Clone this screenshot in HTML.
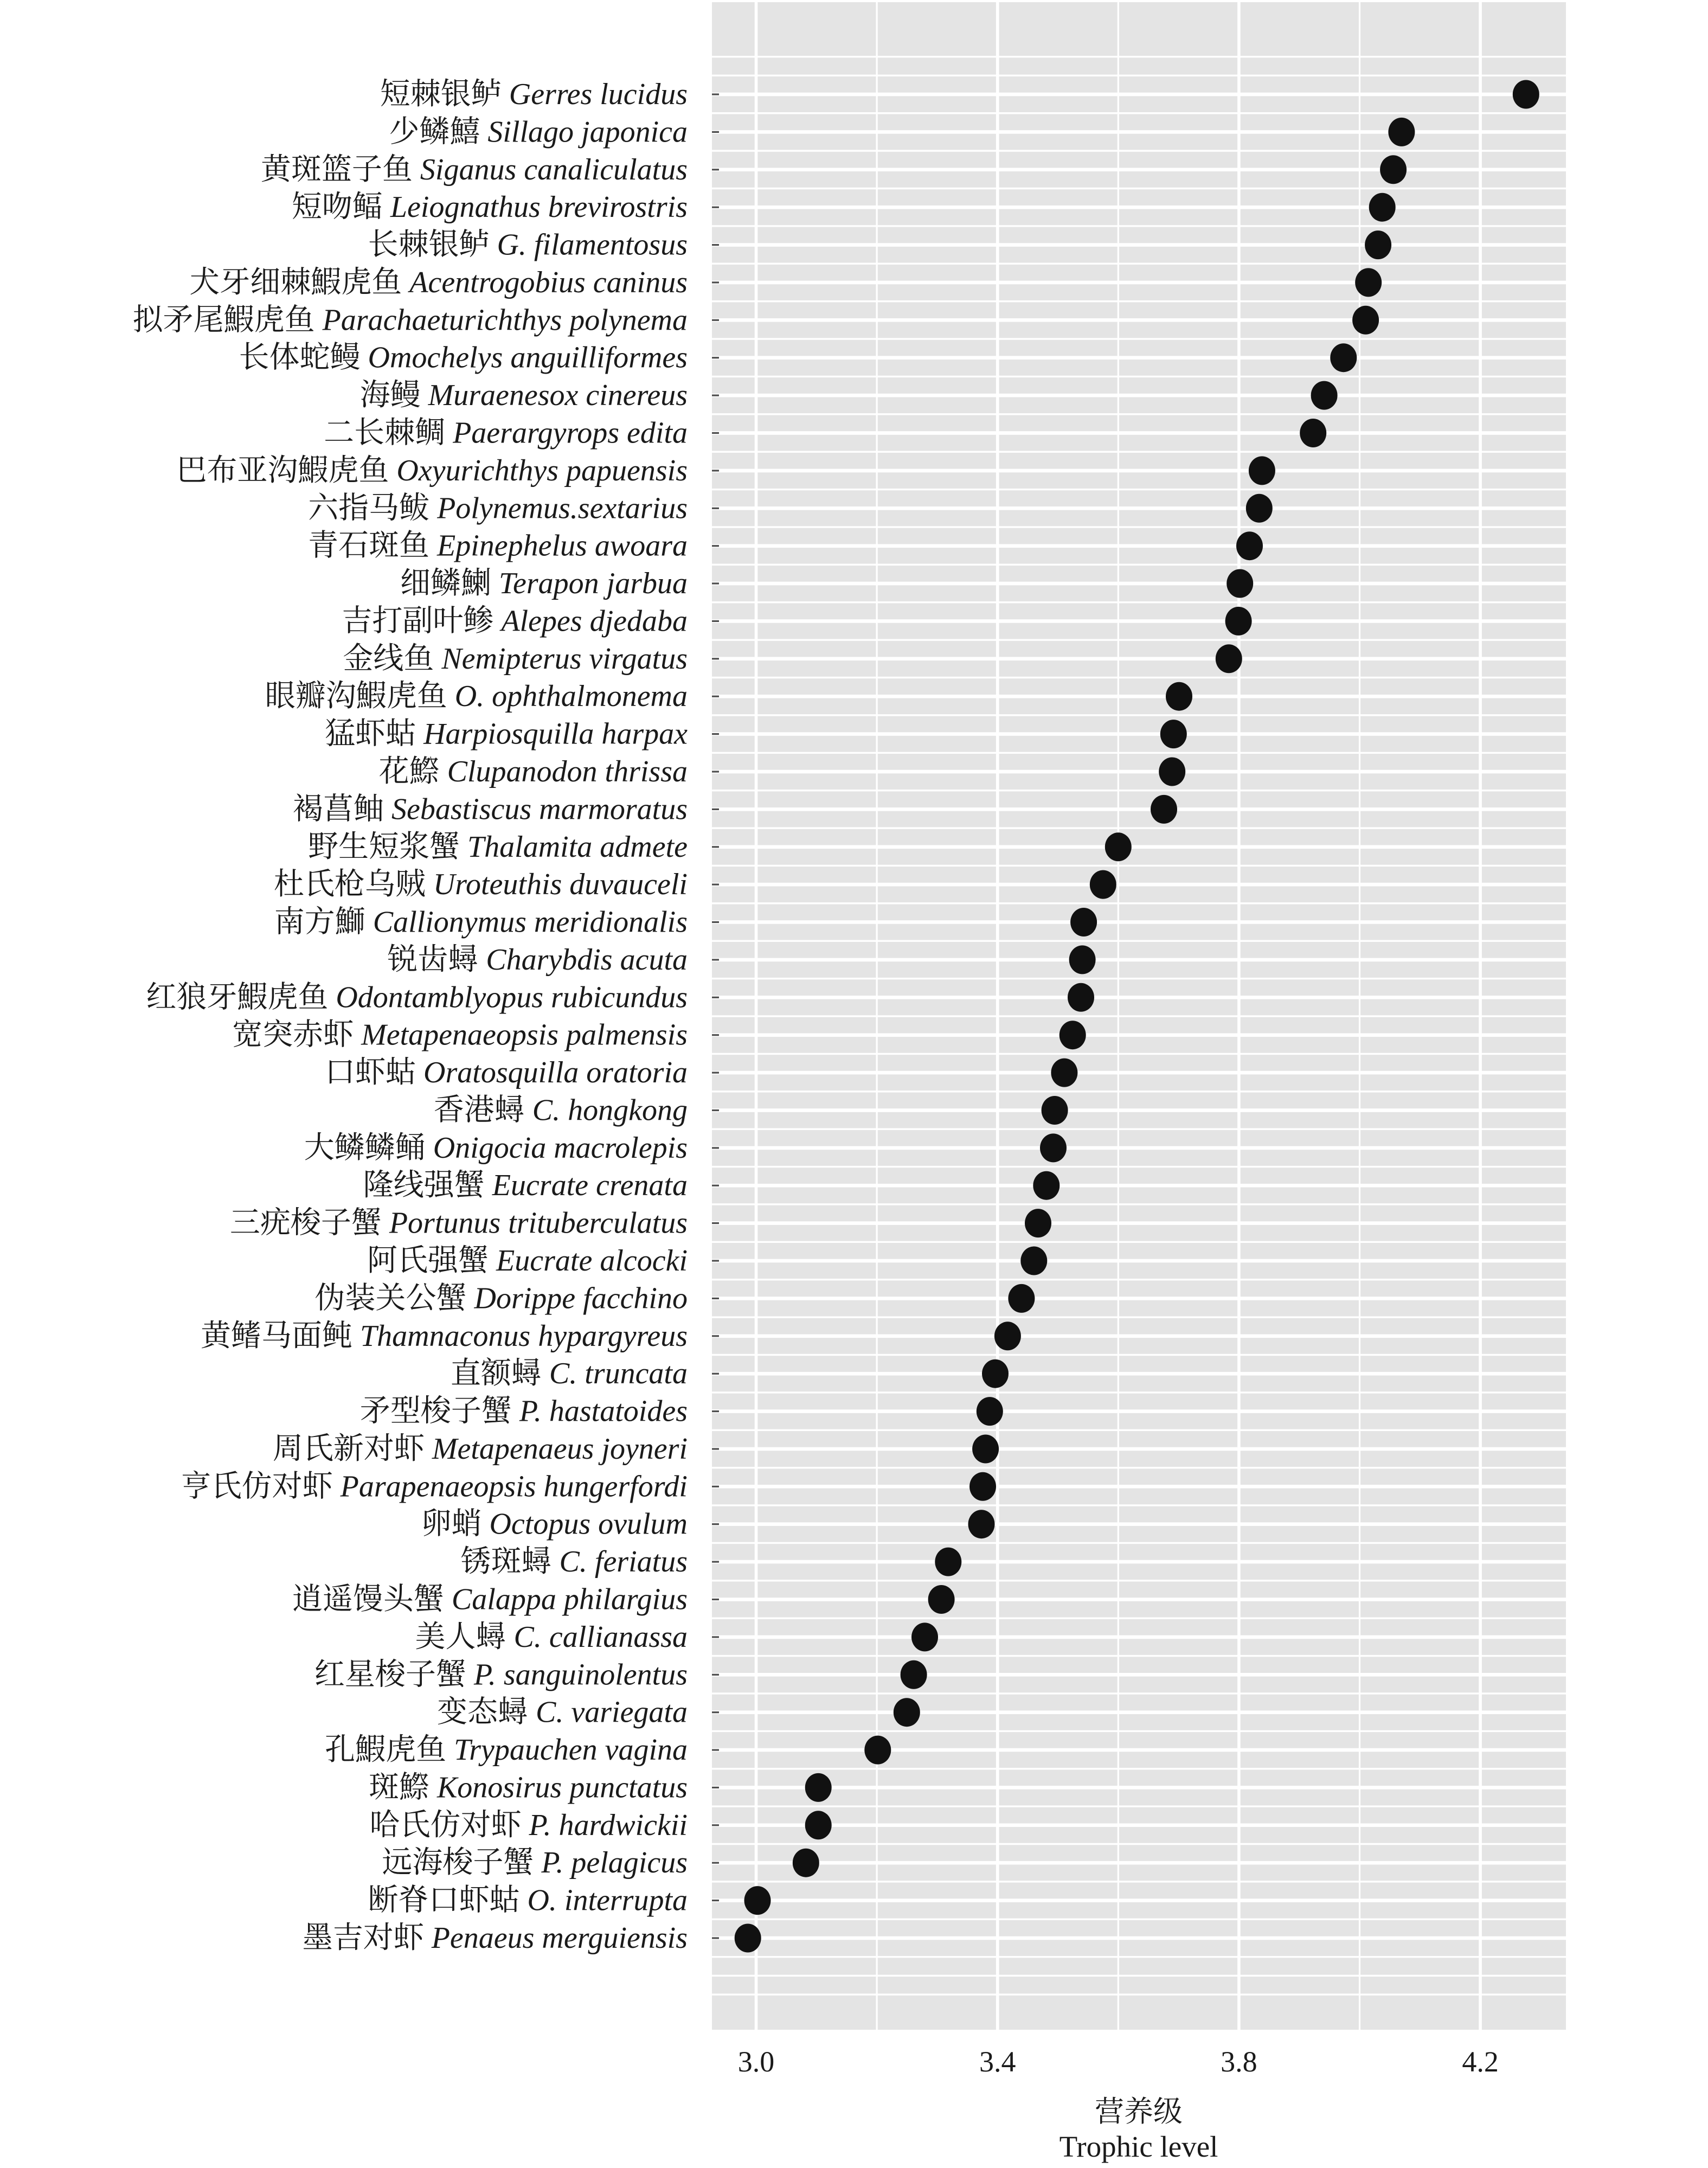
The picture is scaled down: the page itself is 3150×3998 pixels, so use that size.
<!DOCTYPE html>
<html><head><meta charset="utf-8"><style>
html,body{margin:0;padding:0;background:#fff;}
svg{display:block;}
</style></head><body>
<svg id="s" xmlns="http://www.w3.org/2000/svg" width="3150" height="3998" viewBox="0 0 3150 3998"></svg>
<script>
const labels=[
["短棘银鲈","Gerres lucidus"],["少鳞鱚","Sillago japonica"],["黄斑篮子鱼","Siganus canaliculatus"],["短吻鲾","Leiognathus brevirostris"],["长棘银鲈","G. filamentosus"],["犬牙细棘鰕虎鱼","Acentrogobius caninus"],["拟矛尾鰕虎鱼","Parachaeturichthys polynema"],["长体蛇鳗","Omochelys anguilliformes"],["海鳗","Muraenesox cinereus"],["二长棘鲷","Paerargyrops edita"],["巴布亚沟鰕虎鱼","Oxyurichthys papuensis"],["六指马鲅","Polynemus.sextarius"],["青石斑鱼","Epinephelus awoara"],["细鳞鯻","Terapon jarbua"],["吉打副叶鲹","Alepes djedaba"],["金线鱼","Nemipterus virgatus"],["眼瓣沟鰕虎鱼","O. ophthalmonema"],["猛虾蛄","Harpiosquilla harpax"],["花鰶","Clupanodon thrissa"],["褐菖鲉","Sebastiscus marmoratus"],["野生短浆蟹","Thalamita admete"],["杜氏枪乌贼","Uroteuthis duvauceli"],["南方鰤","Callionymus meridionalis"],["锐齿蟳","Charybdis acuta"],["红狼牙鰕虎鱼","Odontamblyopus rubicundus"],["宽突赤虾","Metapenaeopsis palmensis"],["口虾蛄","Oratosquilla oratoria"],["香港蟳","C. hongkong"],["大鳞鳞鲬","Onigocia macrolepis"],["隆线强蟹","Eucrate crenata"],["三疣梭子蟹","Portunus trituberculatus"],["阿氏强蟹","Eucrate alcocki"],["伪装关公蟹","Dorippe facchino"],["黄鳍马面鲀","Thamnaconus hypargyreus"],["直额蟳","C. truncata"],["矛型梭子蟹","P. hastatoides"],["周氏新对虾","Metapenaeus joyneri"],["亨氏仿对虾","Parapenaeopsis hungerfordi"],["卵蛸","Octopus ovulum"],["锈斑蟳","C. feriatus"],["逍遥馒头蟹","Calappa philargius"],["美人蟳","C. callianassa"],["红星梭子蟹","P. sanguinolentus"],["变态蟳","C. variegata"],["孔鰕虎鱼","Trypauchen vagina"],["斑鰶","Konosirus punctatus"],["哈氏仿对虾","P. hardwickii"],["远海梭子蟹","P. pelagicus"],["断脊口虾蛄","O. interrupta"],["墨吉对虾","Penaeus merguiensis"]];
const px=[1104,1014,1008,1000,997,990,988,972,958,950,913,911,904,897,896,889,853,849,848,842,809,798,784,783,782,776,770,763,762,757,751,748,739,729,720,716,713,711,710,686,681,669,661,656,635,592,592,583,548,541];
const L=1313,R=2888,T=4,B=3743;
const y0=174,dy=(3574-174)/49;
let h='';
h+=`<rect x="${L}" y="${T}" width="${R-L}" height="${B-T}" fill="#e4e4e4"/>`;
for(let k=-2;k<=101;k++){const y=y0+k*dy/2; if(y<T||y>B)continue; if(k%2===0&&k>=0&&k<=98)continue; h+=`<rect x="${L}" y="${(y-1.7).toFixed(1)}" width="${R-L}" height="3.4" fill="#fff"/>`;}
const xs=v=>1394.5+(v-3)*1113;
[3.2,3.6,4.0].forEach(v=>{h+=`<rect x="${(xs(v)-1.6).toFixed(1)}" y="${T}" width="3.2" height="${B-T}" fill="#fff"/>`;});
[3.0,3.4,3.8,4.2].forEach(v=>{h+=`<rect x="${(xs(v)-2.8).toFixed(1)}" y="${T}" width="5.6" height="${B-T}" fill="#fff"/>`;});
for(let i=0;i<50;i++){const y=y0+i*dy;h+=`<rect x="${L}" y="${(y-3.3).toFixed(1)}" width="${R-L}" height="6.6" fill="#fff"/>`;}
for(let i=0;i<50;i++){const y=y0+i*dy;
h+=`<rect x="${L}" y="${(y-1.6).toFixed(1)}" width="13" height="3.2" fill="#4d4d4d"/>`;
const x=1394.5+(px[i]-547)*2.549;
h+=`<ellipse cx="${x.toFixed(1)}" cy="${y.toFixed(1)}" rx="24.5" ry="26.5" fill="#111"/>`;
h+=`<text x="1268" y="${(y+18).toFixed(1)}" text-anchor="end" font-size="56" fill="#1a1a1a" font-family="'Liberation Serif','Noto Serif CJK SC',serif"><tspan>${labels[i][0]} </tspan><tspan font-style="italic">${labels[i][1]}</tspan></text>`;}
[["3.0",3.0],["3.4",3.4],["3.8",3.8],["4.2",4.2]].forEach(a=>{h+=`<text x="${xs(a[1])}" y="3820" text-anchor="middle" font-size="54" fill="#1a1a1a" font-family="'Liberation Serif',serif">${a[0]}</text>`;});
h+=`<text x="2100" y="3912" text-anchor="middle" font-size="54" fill="#1a1a1a" font-family="'Liberation Serif','Noto Serif CJK SC',serif">营养级</text>`;
h+=`<text x="2100" y="3977" text-anchor="middle" font-size="55" fill="#1a1a1a" font-family="'Liberation Serif',serif">Trophic level</text>`;
document.getElementById('s').innerHTML=h;
</script>
</body></html>
